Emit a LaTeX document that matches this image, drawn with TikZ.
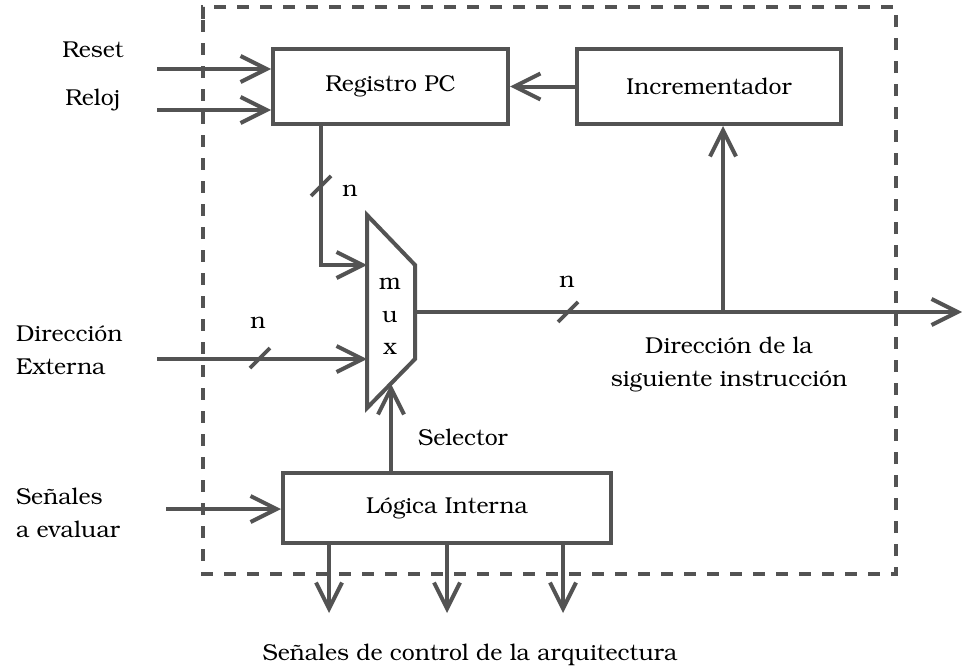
\documentclass[tikz,border=0pt]{standalone}
\usepackage[T1]{fontenc}
\usepackage{bookman}
\usetikzlibrary{arrows.meta}
\definecolor{wire}{HTML}{535353}
\tikzset{
  every node/.style={font=\fontsize{11.5}{16.5}\selectfont, text=black},
  blockbox/.style={draw=wire, line width=2pt, minimum height=37.5pt, inner sep=0pt},
  wireline/.style={draw=wire, line width=2pt},
  sig/.style={wireline, -{Straight Barb[length=13pt,width=13pt]}},
  bus/.style={draw=wire, line width=1.8pt},
  frame/.style={draw=wire, line width=2.2pt, dash pattern=on 6pt off 5.5pt},
}
\begin{document}
\begin{tikzpicture}[x=0.5pt, y=-0.5pt]
\useasboundingbox (0,0) rectangle (962,669);

% enclosing dashed boundary
\draw[frame] (203,20) -- (203,574) -- (896,574) -- (896,7) -- (203,7) -- cycle;

% blocks
\node[blockbox, minimum width=117.5pt] (pc) at (390.5,86.5) {Registro PC};
\node[blockbox, minimum width=132pt] (inc) at (709,86.5) {Incrementador};
\node[blockbox, minimum width=164pt, minimum height=35pt] (log) at (447,508) {Lógica Interna};

% multiplexer
\coordinate (mtl) at (367,215);
\coordinate (mtr) at (415,265);
\coordinate (mbr) at (415,359);
\coordinate (mbl) at (367,408);
\draw[wireline, line join=miter] (mtl) -- (mtr) -- (mbr) -- (mbl) -- cycle;
\node (mm) at (390,284) {m};
\node (mu) at (390,317) {u};
\node (mx) at (390,349) {x};
\coordinate (min1) at (367,265);
\coordinate (min2) at (367,359);
\coordinate (msel) at (391,384);
\coordinate (mout) at (415,312);

% external inputs
\node (rst) at (93,49) {Reset};
\node (clk) at (93,100) {Reloj};
\coordinate (rsts) at (157,69);
\coordinate (clks) at (157,110);
\draw[sig] (rsts) -- (pc.west |- rsts);
\draw[sig] (clks) -- (pc.west |- clks);

\node[align=left, anchor=west] (dext) at (9,350) {Dirección\\Externa};
\coordinate (dexts) at (157,359);
\draw[sig] (dexts) -- (min2);

\node[align=left, anchor=west] (seval) at (9,513) {Señales\\a evaluar};
\coordinate (sevs) at (166,509);
\draw[sig] (sevs) -- (log.west |- sevs);

% internal connections
\draw[sig] (inc.west) -- (pc.east);
\coordinate (pcout) at (321,124);
\draw[sig] (pcout) |- (min1);

\coordinate (nxt) at (962,312);
\coordinate (br) at (723,312);
\draw[sig] (mout) -- (nxt);
\draw[sig] (br) -- (br |- inc.south);

\coordinate (lsel) at (391,473);
\draw[sig] (lsel) -- (msel);
\node (sel) at (463,438) {Selector};

% bus width marks
\coordinate (b1) at (321,186);
\coordinate (b2) at (260,358);
\coordinate (b3) at (568,312);
\draw[bus] ([shift={(-10,10)}]b1) -- ([shift={(10,-10)}]b1);
\draw[bus] ([shift={(-10,10)}]b2) -- ([shift={(10,-10)}]b2);
\draw[bus] ([shift={(-10,10)}]b3) -- ([shift={(10,-10)}]b3);
\node (n1) at (350,191) {n};
\node (n2) at (258,323) {n};
\node (n3) at (567,282) {n};

\node[align=center] (nxtlbl) at (729,365) {Dirección de la\\siguiente instrucción};

% control outputs
\coordinate (o1) at (329,613);
\coordinate (o2) at (447,613);
\coordinate (o3) at (563,613);
\draw[sig] (o1 |- log.south) -- (o1);
\draw[sig] (o2 |- log.south) -- (o2);
\draw[sig] (o3 |- log.south) -- (o3);
\node (ctl) at (470,655) {Señales de control de la arquitectura};
\end{tikzpicture}
\end{document}
